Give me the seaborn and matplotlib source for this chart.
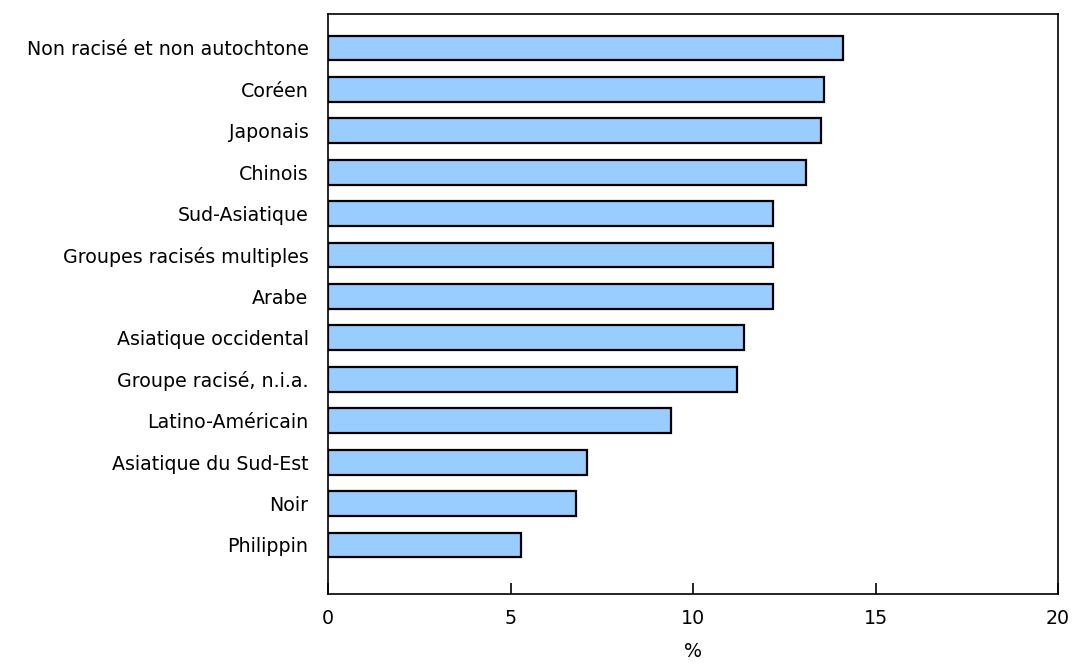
import matplotlib
matplotlib.use("Agg")
import matplotlib.pyplot as plt
import pandas as pd
import seaborn as sns

# ── Data ──────────────────────────────────────────────────────────────────────
groups = [
    "Non racisé et non autochtone",
    "Coréen",
    "Japonais",
    "Chinois",
    "Sud-Asiatique",
    "Groupes racisés multiples",
    "Arabe",
    "Asiatique occidental",
    "Groupe racisé, n.i.a.",
    "Latino-Américain",
    "Asiatique du Sud-Est",
    "Noir",
    "Philippin",
]
values = [14.1, 13.6, 13.5, 13.1, 12.2, 12.2, 12.2, 11.4, 11.2, 9.4, 7.1, 6.8, 5.3]
x_ticks = [0, 5, 10, 15, 20]
x_label = "%"

df = pd.DataFrame({"groupe": groups, "pct": values})

sns.set_theme(style="white")
plt.rcParams["font.family"] = ["DejaVu Sans"]

fs = 13.7
fig = plt.figure(figsize=(10.72, 6.65), dpi=100)
ax = fig.add_axes([0.306, 0.107, 0.681, 0.872])

sns.barplot(
    data=df, x="pct", y="groupe", orient="h",
    color="#99CCFF", edgecolor="black", linewidth=1.6,
    width=0.6, saturation=1, ax=ax,
)

ax.set_xlim(0, 20)
ax.set_ylim(13.18, -0.82)
ax.set_xticks(x_ticks)
ax.set_xticklabels([str(t) for t in x_ticks])
ax.tick_params(axis="x", bottom=True, direction="in", length=8, width=1.2,
               pad=11, colors="black", labelsize=fs)
ax.tick_params(axis="y", left=False, length=0, pad=14, labelsize=fs,
               labelcolor="black")
ax.set_xlabel(x_label, fontsize=fs, labelpad=10, color="black")
ax.set_ylabel("")

for side in ["left", "right", "top", "bottom"]:
    ax.spines[side].set_visible(True)
    ax.spines[side].set_color("black")
    ax.spines[side].set_linewidth(1.2)

fig.savefig("out.png", dpi=100)
plt.close(fig)
